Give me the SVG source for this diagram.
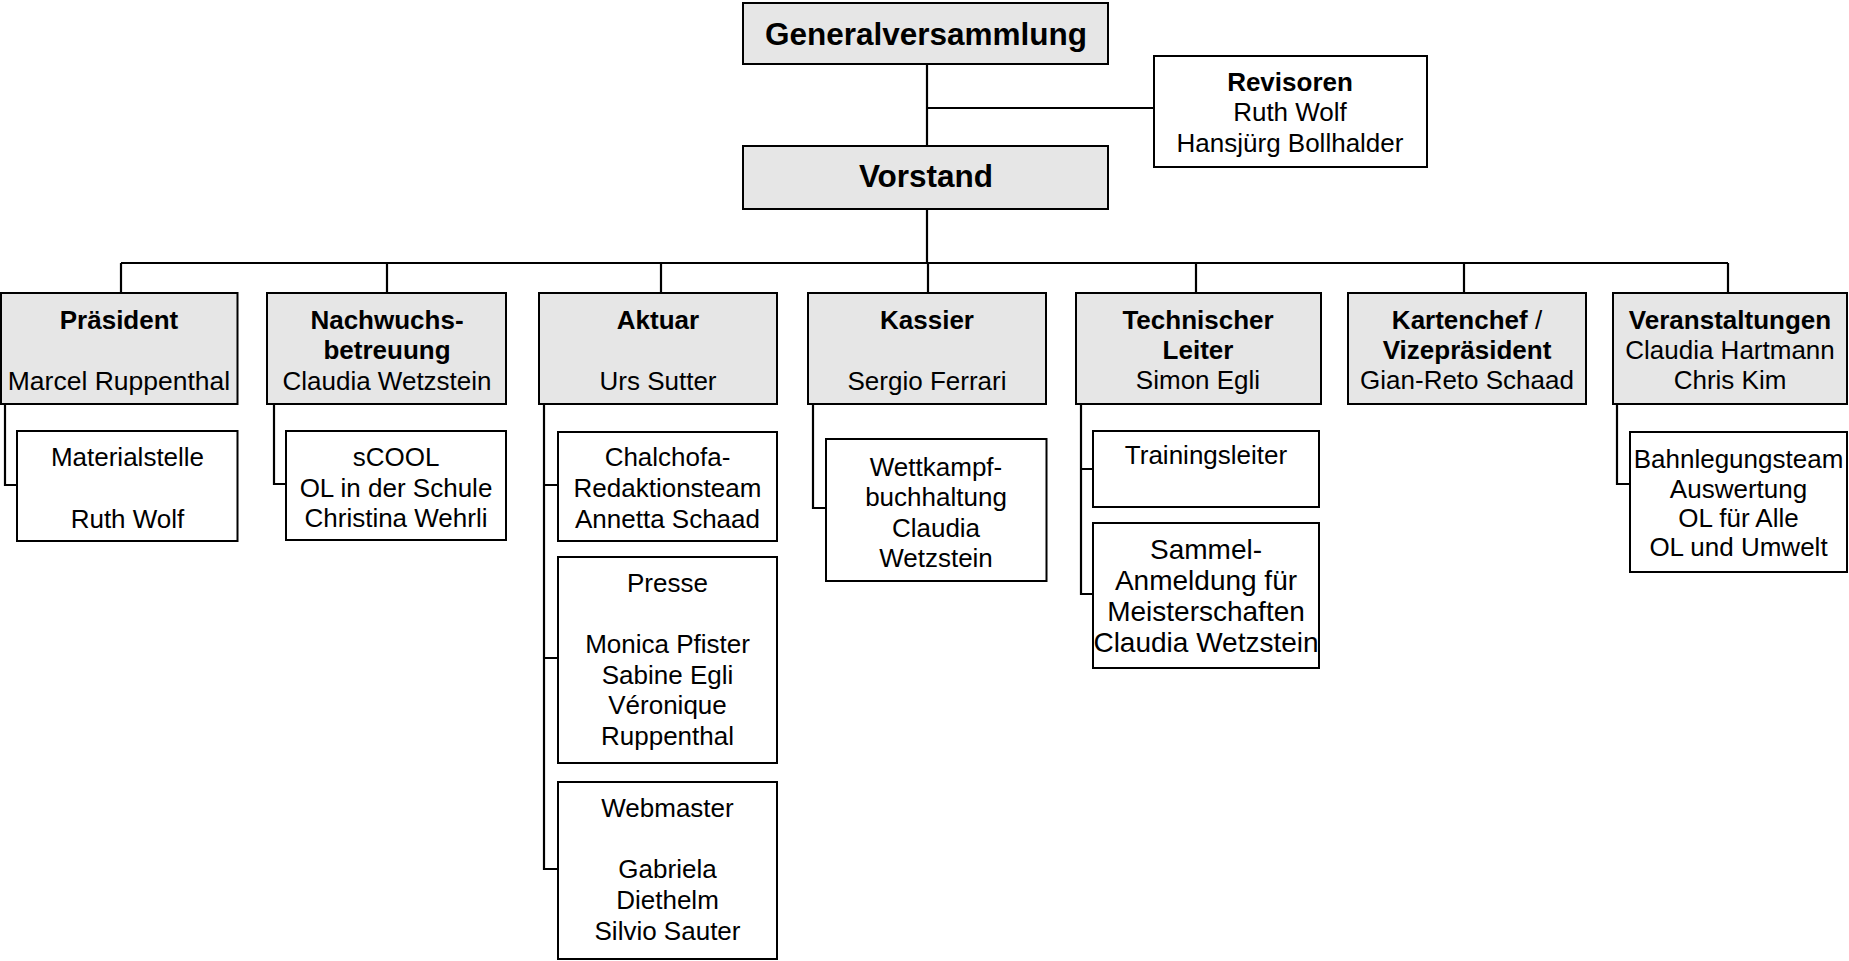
<svg xmlns="http://www.w3.org/2000/svg" width="1849" height="961" viewBox="0 0 1849 961">
<style>
.b{stroke:#000;stroke-width:2;}
.g{fill:#e6e6e6;}
.w{fill:#fff;}
text{font-family:"Liberation Sans",Arial,sans-serif;font-size:26px;fill:#000;text-anchor:middle;}
.bd{font-weight:bold;}
.big{font-size:31.5px;font-weight:bold;}
.l{font-size:28px;}
.c{fill:none;stroke:#000;stroke-width:2.2;}
</style>
<rect width="1849" height="961" fill="#fff"/>
<g id="connectors">
<path class="c" d="M927 64V146M927 108H1154M927 209V263M121 263H1728M121 263V293M387 263V293M661 263V293M928 263V293M1196 263V293M1464 263V293M1728 263V293"/>
<path class="c" d="M5 404V485H17M274 404V484H286M544 404V869H558M544 485H558M544 658H558M813 404V508H826M1081 404V594H1093M1081 469H1093M1617 404V484H1630"/>
</g>
<g id="generalversammlung"><rect class="b g" x="743" y="3" width="365" height="61"/><text class="big" x="926" y="45">Generalversammlung</text></g>
<g id="vorstand"><rect class="b g" x="743" y="146" width="365" height="63"/><text class="big" x="926" y="187">Vorstand</text></g>
<g id="revisoren"><rect class="b w" x="1154" y="56" width="273" height="111"/><text class="bd" x="1290" y="91">Revisoren</text><text x="1290" y="121">Ruth Wolf</text><text x="1290" y="152">Hansjürg Bollhalder</text></g>
<g id="praesident"><rect class="b g" x="1" y="293" width="236.5" height="111"/><text class="bd" x="119" y="329">Präsident</text><text x="119" y="390" style="font-size:26.5px">Marcel Ruppenthal</text></g>
<g id="nachwuchs"><rect class="b g" x="267" y="293" width="239" height="111"/><text class="bd" x="387" y="329">Nachwuchs-</text><text class="bd" x="387" y="359">betreuung</text><text x="387" y="390">Claudia Wetzstein</text></g>
<g id="aktuar"><rect class="b g" x="539" y="293" width="238" height="111"/><text class="bd" x="658" y="329">Aktuar</text><text x="658" y="390">Urs Sutter</text></g>
<g id="kassier"><rect class="b g" x="808" y="293" width="238" height="111"/><text class="bd" x="927" y="329">Kassier</text><text x="927" y="390">Sergio Ferrari</text></g>
<g id="technischer"><rect class="b g" x="1076" y="293" width="245" height="111"/><text class="bd" x="1198" y="329">Technischer</text><text class="bd" x="1198" y="359">Leiter</text><text x="1198" y="389">Simon Egli</text></g>
<g id="kartenchef"><rect class="b g" x="1348" y="293" width="238" height="111"/><text x="1467" y="329"><tspan class="bd">Kartenchef</tspan> /</text><text class="bd" x="1467" y="359">Vizepräsident</text><text x="1467" y="389">Gian-Reto Schaad</text></g>
<g id="veranstaltungen"><rect class="b g" x="1613" y="293" width="234" height="111"/><text class="bd" x="1730" y="329">Veranstaltungen</text><text x="1730" y="359">Claudia Hartmann</text><text x="1730" y="389">Chris Kim</text></g>
<g id="materialstelle"><rect class="b w" x="17" y="431" width="220.5" height="110"/><text x="127.5" y="466">Materialstelle</text><text x="127.5" y="528">Ruth Wolf</text></g>
<g id="scool"><rect class="b w" x="286" y="431" width="220" height="109"/><text x="396" y="466">sCOOL</text><text x="396" y="497">OL in der Schule</text><text x="396" y="527">Christina Wehrli</text></g>
<g id="chalchofa"><rect class="b w" x="558" y="432" width="219" height="109"/><text x="667.5" y="466">Chalchofa-</text><text x="667.5" y="497">Redaktionsteam</text><text x="667.5" y="528">Annetta Schaad</text></g>
<g id="presse"><rect class="b w" x="558" y="557" width="219" height="206"/><text x="667.5" y="592">Presse</text><text x="667.5" y="653">Monica Pfister</text><text x="667.5" y="683.5">Sabine Egli</text><text x="667.5" y="714">Véronique</text><text x="667.5" y="745">Ruppenthal</text></g>
<g id="webmaster"><rect class="b w" x="558" y="782" width="219" height="177"/><text x="667.5" y="817">Webmaster</text><text x="667.5" y="878">Gabriela</text><text x="667.5" y="909">Diethelm</text><text x="667.5" y="940">Silvio Sauter</text></g>
<g id="wettkampf"><rect class="b w" x="826" y="439" width="220.5" height="142"/><text x="936" y="476">Wettkampf-</text><text x="936" y="506">buchhaltung</text><text x="936" y="537">Claudia</text><text x="936" y="567">Wetzstein</text></g>
<g id="trainingsleiter"><rect class="b w" x="1093" y="431" width="226" height="76"/><text x="1206" y="464">Trainingsleiter</text></g>
<g id="sammel"><rect class="b w" x="1093" y="523" width="226" height="145"/><text class="l" x="1206" y="559">Sammel-</text><text class="l" x="1206" y="590">Anmeldung für</text><text class="l" x="1206" y="621">Meisterschaften</text><text class="l" x="1206" y="652">Claudia Wetzstein</text></g>
<g id="bahnlegung"><rect class="b w" x="1630" y="432" width="217" height="140"/><text x="1738.5" y="468">Bahnlegungsteam</text><text x="1738.5" y="497.5">Auswertung</text><text x="1738.5" y="527">OL für Alle</text><text x="1738.5" y="556">OL und Umwelt</text></g>
</svg>
